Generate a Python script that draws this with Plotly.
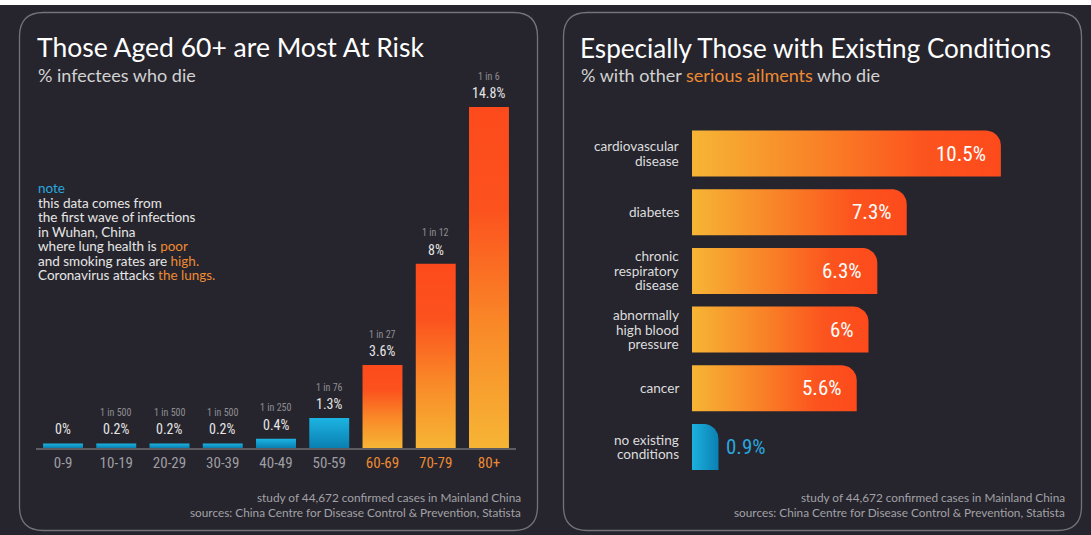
import math
import plotly.graph_objects as go

# ---------------- data ----------------
age_groups = ["0-9", "10-19", "20-29", "30-39", "40-49", "50-59", "60-69", "70-79", "80+"]
age_death_pct = [0, 0.2, 0.2, 0.2, 0.4, 1.3, 3.6, 8, 14.8]
age_ratio_labels = ["", "1 in 500", "1 in 500", "1 in 500", "1 in 250", "1 in 76", "1 in 27", "1 in 12", "1 in 6"]

conditions = ["cardiovascular\ndisease", "diabetes", "chronic\nrespiratory\ndisease",
              "abnormally\nhigh blood\npressure", "cancer", "no existing\nconditions"]
condition_death_pct = [10.5, 7.3, 6.3, 6.0, 5.6, 0.9]

note_lines = [
    "<span style='color:#2aa6df'>note</span>",
    "this data comes from",
    "the first wave of infections",
    "in Wuhan, China",
    "where lung health is <span style='color:#ee8a33'>poor</span>",
    "and smoking rates are <span style='color:#ee8a33'>high.</span>",
    "Coronavirus attacks <span style='color:#ee8a33'>the lungs.</span>",
]
footer_lines = ["study of 44,672 confirmed cases in Mainland China",
                "sources: China Centre for Disease Control & Prevention, Statista"]

# ---------------- style ----------------
W, H = 1091, 535
BG = "#26252d"
BORDER = "#74737a"
ORANGE_TXT = "#ee8a33"
BLUE_TXT = "#2aa6df"
TITLE_FONT = "Lato, 'Open Sans', sans-serif"
COND = "'Liberation Sans Narrow', 'Roboto Condensed', 'DejaVu Sans Condensed', sans-serif"
ORANGE_V = [[0, "#f6b535"], [0.35, "#f98a28"], [0.7, "#fc521e"], [1, "#fd4a1c"]]
BLUE_V = [[0, "#0a7fb1"], [1, "#1cb4e2"]]
ORANGE_H = [[0, "#f6b535"], [0.45, "#f97d26"], [0.75, "#fc541e"], [1, "#fd4a1c"]]
BLUE_H = [[0, "#1cb1df"], [1, "#0b80b2"]]


def px(x):
    return x / W


def py(y):
    return 1 - y / H


fig = go.Figure()

# ---------- left panel: vertical bars ----------
L_X0, L_X1 = 36.4, 515.6
L_BASE, L_TOP = 448, 60
L_PX_PER_UNIT = 23.04
bar_w = 0.75
min_visible = 0.2
for i, v in enumerate(age_death_pct):
    h = max(v, min_visible)
    xs = [i - bar_w / 2, i + bar_w / 2, i + bar_w / 2, i - bar_w / 2, i - bar_w / 2]
    ys = [0, 0, h, h, 0]
    cs = ORANGE_V if i >= 6 else BLUE_V
    fig.add_trace(go.Scatter(x=xs, y=ys, mode="lines", fill="toself", line=dict(width=0),
                             fillgradient=dict(type="vertical", colorscale=cs),
                             hoverinfo="skip", showlegend=False, xaxis="x", yaxis="y"))
    fig.add_annotation(x=i, y=h, xref="x", yref="y", text=f"{v:g}%", showarrow=False,
                       yshift=14, font=dict(family=COND, size=14, color="#e6e6e6"))
    if age_ratio_labels[i]:
        fig.add_annotation(x=i, y=h, xref="x", yref="y", text=age_ratio_labels[i], showarrow=False,
                           yshift=31, font=dict(family=COND, size=10, color="#8e8d93"))

tick_text = [(f"<span style='color:{ORANGE_TXT}'>{a}</span>" if i >= 6 else a)
             for i, a in enumerate(age_groups)]

# ---------- right panel: horizontal bars ----------
R_X0, R_X1 = 692, 1045
R_RANGE = 12
R_YTOP, R_YBOT = 118.3, 482.2
px_per_x = (R_X1 - R_X0) / R_RANGE
px_per_y = (R_YBOT - R_YTOP) / 6.2
half = 0.392
radius = 15
rx, ry = radius / px_per_x, radius / px_per_y
for i, v in enumerate(condition_death_pct):
    top, bot = i - half, i + half
    xs = [0, v, v]
    ys = [bot, bot, top + ry]
    for k in range(1, 13):
        a = k / 12 * math.pi / 2
        xs.append(v - rx + rx * math.cos(a))
        ys.append(top + ry - ry * math.sin(a))
    xs += [0, 0]
    ys += [top, bot]
    small = v < 2
    fig.add_trace(go.Scatter(x=xs, y=ys, mode="lines", fill="toself", line=dict(width=0),
                             fillgradient=dict(type="horizontal", colorscale=BLUE_H if small else ORANGE_H),
                             hoverinfo="skip", showlegend=False, xaxis="x2", yaxis="y2"))
    if small:
        fig.add_annotation(x=v, y=i, xref="x2", yref="y2", text=f"{v:g}%", showarrow=False,
                           xanchor="left", xshift=6, font=dict(family=COND, size=21, color=BLUE_TXT))
    else:
        fig.add_annotation(x=v, y=i, xref="x2", yref="y2", text=f"{v:g}%", showarrow=False,
                           xanchor="right", xshift=-13, font=dict(family=COND, size=21, color="#ffffff"))
    lines = conditions[i].split("\n")
    n = len(lines)
    for k, ln in enumerate(lines):
        fig.add_annotation(x=0, y=i, xref="x2", yref="y2", text=ln, showarrow=False,
                           xanchor="right", xshift=-11, yshift=-(k - (n - 1) / 2) * 14.5,
                           font=dict(family=TITLE_FONT, size=13.6, color="#dcdcdc"))

# ---------- panels ----------
def rounded_rect(x0, y0, x1, y1, r):
    p = [
        f"M {px(x0 + r)},{py(y0)}",
        f"L {px(x1 - r)},{py(y0)}",
        f"Q {px(x1)},{py(y0)} {px(x1)},{py(y0 + r)}",
        f"L {px(x1)},{py(y1 - r)}",
        f"Q {px(x1)},{py(y1)} {px(x1 - r)},{py(y1)}",
        f"L {px(x0 + r)},{py(y1)}",
        f"Q {px(x0)},{py(y1)} {px(x0)},{py(y1 - r)}",
        f"L {px(x0)},{py(y0 + r)}",
        f"Q {px(x0)},{py(y0)} {px(x0 + r)},{py(y0)}",
        "Z",
    ]
    return " ".join(p)


shapes = [
    dict(type="rect", xref="paper", yref="paper", x0=0, x1=1, y0=py(5), y1=1,
         fillcolor="#ffffff", line=dict(width=0), layer="below"),
    dict(type="path", xref="paper", yref="paper", path=rounded_rect(19.5, 12.5, 537.5, 530.5, 24),
         line=dict(color=BORDER, width=1.3), layer="below"),
    dict(type="path", xref="paper", yref="paper", path=rounded_rect(563.5, 12.5, 1081.5, 530.5, 24),
         line=dict(color=BORDER, width=1.3), layer="below"),
]

# ---------- text ----------
def paper_text(x, y, text, size, color, family=TITLE_FONT, xanchor="left"):
    fig.add_annotation(x=px(x), y=py(y), xref="paper", yref="paper", text=text, showarrow=False,
                       xanchor=xanchor, yanchor="middle", align=xanchor,
                       font=dict(family=family, size=size, color=color))


paper_text(35, 47, "Those Aged 60+ are Most At Risk", 26.5, "#ffffff")
paper_text(36, 75, "% infectees who die", 18, "#d2d2d2")
paper_text(578, 48, "Especially Those with Existing Conditions", 26.1, "#ffffff")
paper_text(579, 75, f"% with other <span style='color:{ORANGE_TXT}'>serious ailments</span> who die", 18, "#d2d2d2")

for k, ln in enumerate(note_lines):
    paper_text(36, 188 + k * 14.5, ln, 13.5, "#e6e6e6")

for k, ln in enumerate(footer_lines):
    paper_text(523, 497 + k * 15, ln, 11.8, "#a2a1a6", xanchor="right")
    paper_text(1067, 497 + k * 15, ln, 11.8, "#a2a1a6", xanchor="right")

fig.update_layout(
    width=W, height=H,
    margin=dict(l=0, r=0, t=0, b=0),
    paper_bgcolor=BG, plot_bgcolor=BG,
    showlegend=False,
    shapes=shapes,
    xaxis=dict(domain=[px(L_X0), px(L_X1)], range=[-0.5, 8.5], tickvals=list(range(len(age_groups))),
               ticktext=tick_text, showgrid=False, zeroline=False, showline=True,
               linecolor="#5d5c63", linewidth=2, ticks="", layer="below traces",
               tickfont=dict(family=COND, size=15, color="#9e9da3"), anchor="y", fixedrange=True),
    yaxis=dict(domain=[py(L_BASE), py(L_TOP)], range=[0, (L_BASE - L_TOP) / L_PX_PER_UNIT],
               visible=False, anchor="x", fixedrange=True),
    xaxis2=dict(domain=[px(R_X0), px(R_X1)], range=[0, R_RANGE], visible=False, anchor="y2", fixedrange=True),
    yaxis2=dict(domain=[py(R_YBOT), py(R_YTOP)], range=[5.6, -0.6], visible=False, anchor="x2", fixedrange=True),
)

fig.write_html("out.html", config={"displayModeBar": False},
               post_script="document.body.style.margin='0';document.body.style.overflow='hidden';")
